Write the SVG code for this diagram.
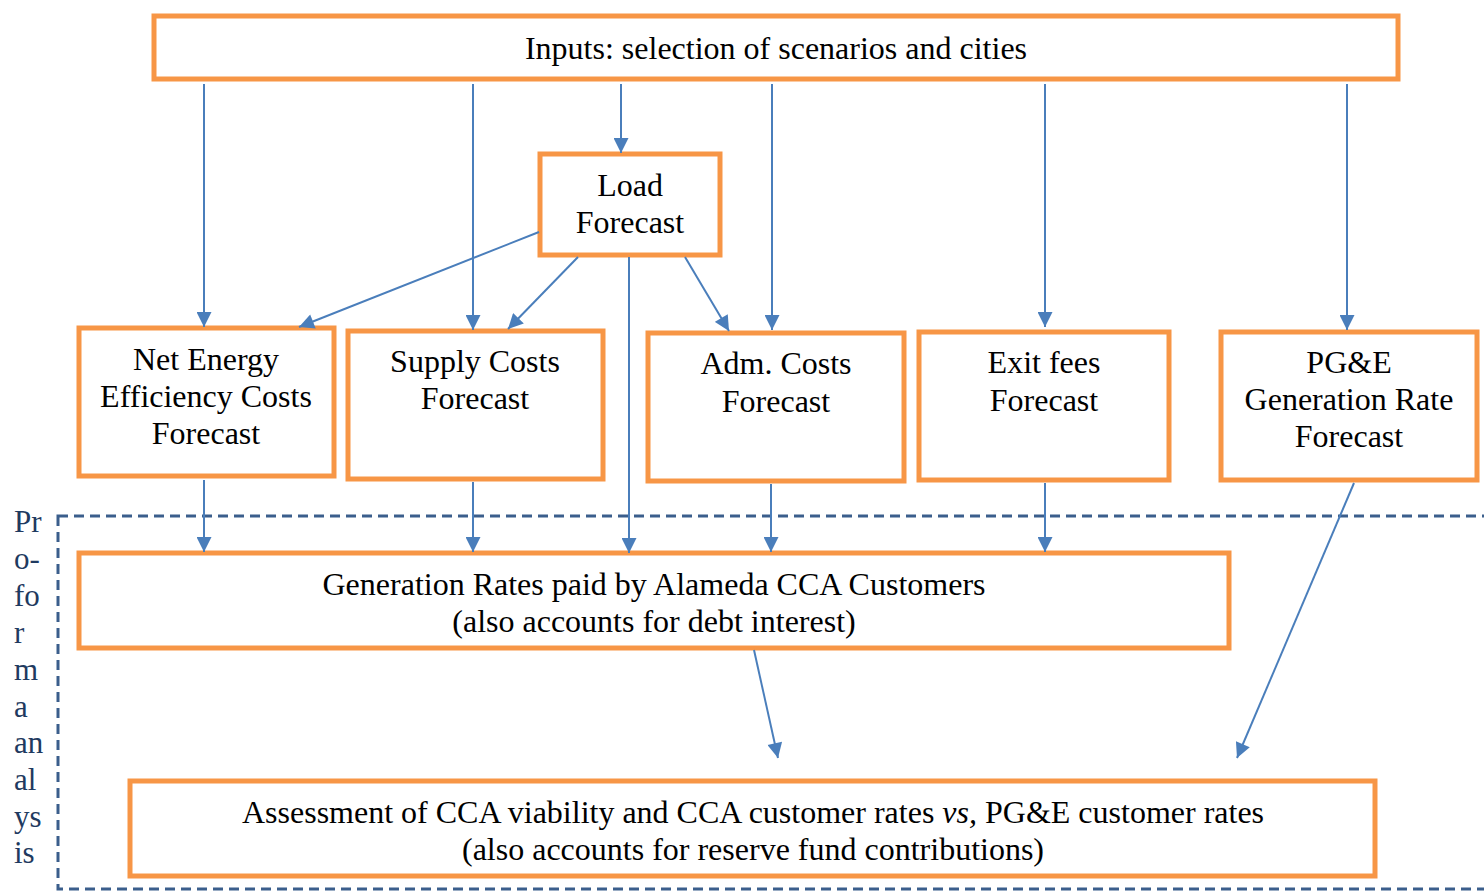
<svg xmlns="http://www.w3.org/2000/svg" width="1484" height="891" viewBox="0 0 1484 891">
<defs>
<marker id="ah" viewBox="0 0 10 10" refX="10" refY="5" markerWidth="16" markerHeight="15" markerUnits="userSpaceOnUse" orient="auto">
<path d="M0,0 L10,5 L0,10 z" fill="#4A7EBB"/>
</marker>
<style>
.box{fill:#fff;stroke:#F79646;stroke-width:5}
.t{font-family:"Liberation Serif","Times New Roman",serif;font-size:32px;fill:#000;text-anchor:middle}
.c{stroke:#4A7EBB;stroke-width:2;fill:none;marker-end:url(#ah)}
.side{font-family:"Liberation Serif","Times New Roman",serif;font-size:31px;fill:#1F3A60}
</style>
</defs>
<rect width="1484" height="891" fill="#fff"/>
<g id="proforma">
<rect x="58" y="516" width="1440" height="373" fill="none" stroke="#3B5E8C" stroke-width="3" stroke-dasharray="10,6"/>
<text class="side"><tspan x="14" y="532">Pr</tspan><tspan x="14" y="569">o-</tspan><tspan x="14" y="606">fo</tspan><tspan x="14" y="643">r</tspan><tspan x="14" y="680">m</tspan><tspan x="14" y="717">a</tspan><tspan x="14" y="753">an</tspan><tspan x="14" y="790">al</tspan><tspan x="14" y="827">ys</tspan><tspan x="14" y="863">is</tspan></text>
</g>
<g id="inputs"><rect class="box" x="154" y="16" width="1244" height="63"/><text class="t" x="776" y="59">Inputs: selection of scenarios and cities</text></g>
<g id="load"><rect class="box" x="540" y="154" width="180" height="101"/><text class="t"><tspan x="630" y="196">Load</tspan><tspan x="630" y="233">Forecast</tspan></text></g>
<g id="netenergy"><rect class="box" x="79" y="328" width="255" height="148"/><text class="t"><tspan x="206" y="370">Net Energy</tspan><tspan x="206" y="407">Efficiency Costs</tspan><tspan x="206" y="444">Forecast</tspan></text></g>
<g id="supply"><rect class="box" x="348" y="331" width="255" height="148"/><text class="t"><tspan x="475" y="372">Supply Costs</tspan><tspan x="475" y="409">Forecast</tspan></text></g>
<g id="adm"><rect class="box" x="648" y="333" width="256" height="148"/><text class="t"><tspan x="776" y="374">Adm. Costs</tspan><tspan x="776" y="412">Forecast</tspan></text></g>
<g id="exit"><rect class="box" x="919" y="332" width="250" height="148"/><text class="t"><tspan x="1044" y="373">Exit fees</tspan><tspan x="1044" y="411">Forecast</tspan></text></g>
<g id="pge"><rect class="box" x="1221" y="332" width="256" height="148"/><text class="t"><tspan x="1349" y="373">PG&amp;E</tspan><tspan x="1349" y="410">Generation Rate</tspan><tspan x="1349" y="447">Forecast</tspan></text></g>
<g id="genrates"><rect class="box" x="79" y="553" width="1150" height="95"/><text class="t"><tspan x="654" y="595">Generation Rates paid by Alameda CCA Customers</tspan><tspan x="654" y="632">(also accounts for debt interest)</tspan></text></g>
<g id="assessment"><rect class="box" x="130" y="781" width="1245" height="95"/><text class="t"><tspan x="753" y="823">Assessment of CCA viability and CCA customer rates <tspan font-style="italic">vs,</tspan> PG&amp;E customer rates</tspan><tspan x="753" y="860">(also accounts for reserve fund contributions)</tspan></text></g>
<g id="connectors">
<line class="c" x1="204" y1="84" x2="204" y2="327"/>
<line class="c" x1="473" y1="84" x2="473" y2="330"/>
<line class="c" x1="621" y1="84" x2="621" y2="153"/>
<line class="c" x1="772" y1="84" x2="772" y2="330"/>
<line class="c" x1="1045" y1="84" x2="1045" y2="327"/>
<line class="c" x1="1347" y1="84" x2="1347" y2="330"/>
<line class="c" x1="539" y1="232" x2="299" y2="327"/>
<line class="c" x1="578" y1="257" x2="508" y2="329"/>
<line class="c" x1="629" y1="257" x2="629" y2="553"/>
<line class="c" x1="685" y1="257" x2="729" y2="331"/>
<line class="c" x1="204" y1="480" x2="204" y2="552"/>
<line class="c" x1="473" y1="482" x2="473" y2="552"/>
<line class="c" x1="771" y1="484" x2="771" y2="552"/>
<line class="c" x1="1045" y1="483" x2="1045" y2="552"/>
<line class="c" x1="754" y1="650" x2="778" y2="758"/>
<line class="c" x1="1354" y1="483" x2="1237" y2="758"/>
</g>
</svg>
